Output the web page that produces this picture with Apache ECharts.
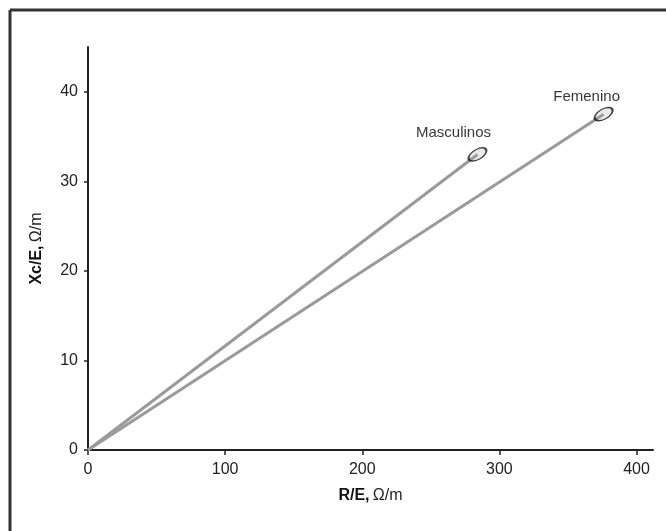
<!DOCTYPE html>
<html>
<head>
<meta charset="utf-8">
<script src="https://cdn.jsdelivr.net/npm/echarts@6/dist/echarts.min.js"></script>
<style>
  html, body { margin: 0; padding: 0; background: #fff; }
  #chart { width: 666px; height: 531px; }
</style>
</head>
<body>
<div id="chart"></div>
<script>
// line names and their end points (all lines start at the origin)
const groups = ['Masculinos', 'Femenino']
const endR = [284, 376]
const endXc = [33.0, 37.5]
const xTicks = [0, 100, 200, 300, 400]
const yTicks = [0, 10, 20, 30, 40]

const myChart = echarts.init(document.getElementById('chart'))

const axisColor = '#222'
const fontFam = 'Liberation Sans, Arial, sans-serif'
const labelFont = { color: '#222', fontSize: 16, fontFamily: fontFam }

// ellipse outline marking the end of each line
const ellipse = 'path://M0,5 A10,5 0 1,0 20,5 A10,5 0 1,0 0,5 Z'
const labelOffsets = [[-24, -22], [-17, -17]]

const series = []
groups.forEach((name, i) => {
  series.push({
    name: name,
    type: 'line',
    data: [[0, 0], [endR[i], endXc[i]]],
    symbol: 'none',
    lineStyle: { color: '#9a9a9a', width: 3 },
    z: 2
  })
  series.push({
    name: name + '-end',
    type: 'scatter',
    data: [[endR[i], endXc[i]]],
    symbol: ellipse,
    symbolSize: [20, 10],
    symbolRotate: 30,
    itemStyle: { color: 'rgba(170,170,170,0.3)', borderColor: '#111', borderWidth: 1.6 },
    label: {
      show: true,
      formatter: name,
      position: 'inside',
      offset: labelOffsets[i],
      color: '#000',
      textBorderWidth: 0,
      fontSize: 15,
      fontFamily: fontFam
    },
    z: 3
  })
})

const nameRich = {
  b: { fontWeight: 'bold', fontSize: 16, color: '#111', fontFamily: fontFam },
  n: { fontSize: 16, color: '#222', fontFamily: fontFam }
}

const option = {
  animation: false,
  backgroundColor: '#fff',
  grid: { left: 88, right: 13, top: 47, bottom: 81 },
  xAxis: {
    type: 'value',
    min: 0,
    max: 412,
    name: '{b|R/E,} {n|Ω/m}',
    nameLocation: 'middle',
    nameGap: 38,
    nameTextStyle: { rich: nameRich },
    axisLine: { show: true, lineStyle: { color: axisColor, width: 2 } },
    axisTick: { show: true, customValues: xTicks, length: 5, lineStyle: { color: axisColor, width: 1.5 } },
    axisLabel: { show: true, customValues: xTicks, margin: 12, ...labelFont },
    splitLine: { show: false }
  },
  yAxis: {
    type: 'value',
    min: 0,
    max: 45,
    name: '{b|Xc/E,} {n|Ω/m}',
    nameLocation: 'middle',
    nameGap: 43,
    nameTextStyle: { rich: nameRich },
    axisLine: { show: true, lineStyle: { color: axisColor, width: 2 } },
    axisTick: { show: true, customValues: yTicks, length: 4, lineStyle: { color: axisColor, width: 1.5 } },
    axisLabel: { show: true, customValues: yTicks, margin: 10, ...labelFont },
    splitLine: { show: false }
  },
  graphic: [
    // frame around the figure (only top and left edges visible)
    { type: 'line', shape: { x1: 10, y1: 10, x2: 666, y2: 10 }, style: { stroke: '#333', lineWidth: 3 } },
    { type: 'line', shape: { x1: 10, y1: 10, x2: 10, y2: 531 }, style: { stroke: '#333', lineWidth: 3 } }
  ],
  series: series
}

myChart.setOption(option)
</script>
</body>
</html>
